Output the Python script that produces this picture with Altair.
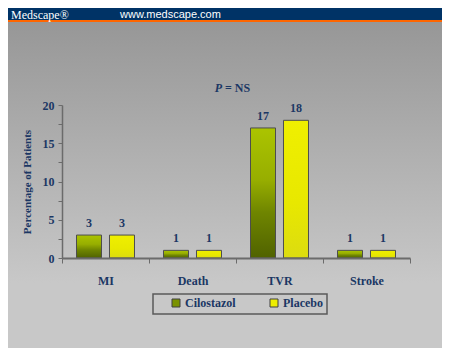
import altair as alt
import pandas as pd

categories = ["MI", "Death", "TVR", "Stroke"]
groups = ["Cilostazol", "Placebo"]
cilostazol = [3, 1, 17, 1]
placebo = [3, 1, 18, 1]
y_ticks = [0, 2.5, 5, 7.5, 10, 12.5, 15, 17.5, 20]

rows = []
for c, v in zip(categories, cilostazol):
    rows.append({"Category": c, "Group": "Cilostazol", "Value": v})
for c, v in zip(categories, placebo):
    rows.append({"Category": c, "Group": "Placebo", "Value": v})
df = pd.DataFrame(rows)

SERIF = "Liberation Serif"
NAVY = "#1b3764"

one = pd.DataFrame({"a": [0]})

bg = alt.Chart(one).mark_rect(
    color={"gradient": "linear", "x1": 0, "y1": 0, "x2": 0, "y2": 1,
           "stops": [{"offset": 0, "color": "#979797"},
                     {"offset": 1, "color": "#c8c8c8"}]}
).encode(x=alt.value(-60), x2=alt.value(400), y=alt.value(-83), y2=alt.value(178))

header = alt.Chart(one).mark_rect(color="#003366").encode(
    x=alt.value(-60), x2=alt.value(400), y=alt.value(-100), y2=alt.value(-85))
orange = alt.Chart(one).mark_rect(color="#ff6600").encode(
    x=alt.value(-60), x2=alt.value(400), y=alt.value(-85), y2=alt.value(-83))
logo = alt.Chart(one).mark_text(
    text="Medscape®", font=SERIF, fontSize=12, color="white", align="left",
    baseline="middle").encode(x=alt.value(-51), y=alt.value(-90.5))
url = alt.Chart(one).mark_text(
    text="www.medscape.com", font="Liberation Sans", fontSize=11, color="white",
    align="left", baseline="middle").encode(x=alt.value(58), y=alt.value(-90.5))

title_p = alt.Chart(one).mark_text(
    text="P", font=SERIF, fontSize=12, fontWeight="bold", fontStyle="italic",
    color=NAVY, align="right", baseline="middle").encode(x=alt.value(160), y=alt.value(-17))
title_ns = alt.Chart(one).mark_text(
    text="= NS", font=SERIF, fontSize=12, fontWeight="bold",
    color=NAVY, align="left", baseline="middle").encode(x=alt.value(163), y=alt.value(-17))

x_enc = alt.X("Category:N", sort=categories,
              scale=alt.Scale(paddingInner=0, paddingOuter=0),
              axis=alt.Axis(title=None, labelAngle=0, labelPadding=12,
                            labelFont=SERIF, labelFontSize=12, labelFontWeight="bold",
                            labelColor=NAVY, tickBand="extent", ticks=True,
                            tickSize=5, tickColor="#6b6b6b", domainColor="#6b6b6b",
                            domainWidth=2, grid=False, zindex=1))
xo_enc = alt.XOffset("Group:N", sort=groups,
                     scale=alt.Scale(domain=groups, paddingInner=0.2424, paddingOuter=0.44))
y_enc = alt.Y("Value:Q", scale=alt.Scale(domain=[0, 20], nice=False),
              axis=alt.Axis(title="Percentage of Patients", values=y_ticks,
                            labelExpr="datum.value % 5 == 0 ? datum.label : ''",
                            labelFont=SERIF, labelFontSize=12, labelFontWeight="bold",
                            labelColor=NAVY, titleFont=SERIF, titleFontSize=11,
                            titleFontWeight="bold", titleColor=NAVY, titlePadding=10,
                            tickSize=4, tickColor="#6b6b6b", domainColor="#6b6b6b",
                            domainWidth=1.5, grid=False, labelPadding=4, zindex=1))

base = alt.Chart(df).encode(x=x_enc, xOffset=xo_enc, y=y_enc)

bars_c = base.transform_filter(alt.datum.Group == "Cilostazol").mark_bar(
    color={"gradient": "linear", "x1": 0, "y1": 0, "x2": 0, "y2": 1,
           "stops": [{"offset": 0, "color": "#abc400"},
                     {"offset": 0.4, "color": "#97ae00"},
                     {"offset": 0.65, "color": "#6f8500"},
                     {"offset": 1, "color": "#506200"}]},
    stroke="#4d4d4d", strokeWidth=1)
bars_p = base.transform_filter(alt.datum.Group == "Placebo").mark_bar(
    color={"gradient": "linear", "x1": 0, "y1": 0, "x2": 0, "y2": 1,
           "stops": [{"offset": 0, "color": "#efef00"},
                     {"offset": 0.6, "color": "#e8e800"},
                     {"offset": 1, "color": "#dcdc10"}]},
    stroke="#4d4d4d", strokeWidth=1)

labels = base.mark_text(font=SERIF, fontSize=12, fontWeight="bold", color=NAVY,
                        baseline="bottom", dy=-5).encode(text="Value:Q")

legend_frame = alt.Chart(one).mark_rect(
    fill="#c8c8c8", stroke="#5a5a5a", strokeWidth=1.5).encode(
    x=alt.value(91), x2=alt.value(265), y=alt.value(189), y2=alt.value(209))

legend_layer = alt.Chart(df).mark_square(opacity=0).encode(
    color=alt.Color("Group:N", sort=groups,
                    scale=alt.Scale(domain=groups, range=["#7a9200", "#eeee00"]),
                    legend=alt.Legend(title=None, orient="none", legendX=108, legendY=192,
                                      direction="horizontal", symbolType="square",
                                      symbolSize=64, symbolOpacity=1,
                                      symbolStrokeColor="#404040", symbolStrokeWidth=1,
                                      labelFont=SERIF, labelFontSize=12,
                                      labelFontWeight="bold", labelColor=NAVY,
                                      columnPadding=32, labelOffset=3, padding=0)))

chart = alt.layer(
    bg, header, orange, logo, url, title_p, title_ns, legend_frame,
    bars_c, bars_p, labels, legend_layer
).properties(
    width=348, height=153,
    autosize=alt.AutoSizeParams(type="none"),
    padding={"left": 54, "top": 97, "right": 32, "bottom": 90},
).configure(background="#c8c8c8").configure_view(stroke=None)

chart.save("out.html", embed_options={"renderer": "svg", "actions": False})
